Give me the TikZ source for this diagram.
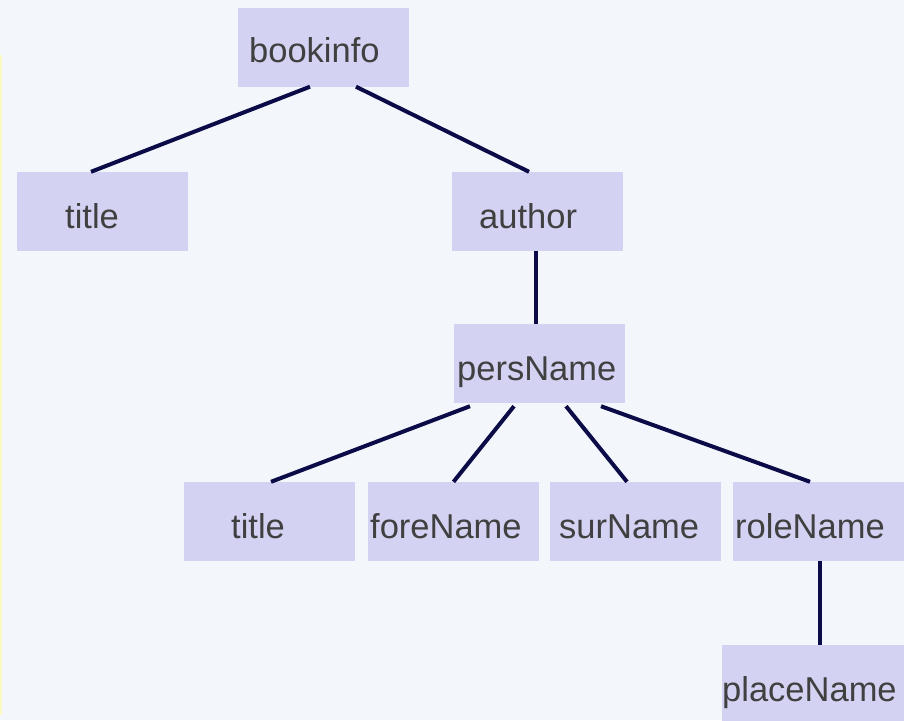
\documentclass[tikz,border=0pt]{standalone}
\usepackage{fontspec}
\setmainfont{Liberation Sans}
\begin{document}
\begin{tikzpicture}[x=1pt,y=-1pt,
  box/.style={fill=boxfill,draw=none,minimum width=171pt,minimum height=79pt,inner sep=0pt},
  lbl/.style={anchor=base west,inner sep=0pt,text=txt,font=\fontsize{34.5}{40}\selectfont},
  link/.style={draw=linkc,line width=4pt}]
\definecolor{bg}{HTML}{F3F6FA}
\definecolor{boxfill}{HTML}{D3D2F2}
\definecolor{txt}{HTML}{404040}
\definecolor{linkc}{HTML}{0B0B48}
\definecolor{edge}{HTML}{FBF8C4}
\useasboundingbox (0,0) rectangle (904,720);
\clip (0,0) rectangle (904,720);
\fill[bg] (0,0) rectangle (904,720);
% faint margin rule on the left
\draw[edge,line width=2.5pt] (1.2,55) -- (1.2,715);

% boxes
\node[box] (book)   at (323.5,47)    {};
\node[box] (title1) at (102.5,211.5) {};
\node[box] (author) at (537.5,211.5) {};
\node[box] (pers)   at (539.5,363.5) {};
\node[box] (title2) at (269.5,521.5) {};
\node[box] (fore)   at (453.5,521.5) {};
\node[box] (sur)    at (635.5,521.5) {};
\node[box,minimum width=180pt] (role)  at (823,521.5) {};
\node[box,minimum width=190pt] (place) at (817,684.5) {};

% labels
\node[lbl] (tbook)   at (249,62)  {bookinfo};
\node[lbl] (ttitle1) at (65,228)  {title};
\node[lbl] (tauthor) at (479,228) {author};
\node[lbl] (tpers)   at (457,380) {persName};
\node[lbl] (ttitle2) at (231,538) {title};
\node[lbl] (tfore)   at (370,538) {foreName};
\node[lbl] (tsur)    at (559,538) {surName};
\node[lbl] (trole)   at (735,538) {roleName};
\node[lbl] (tplace)  at (722,701) {placeName};

% tree edges
\draw[link] ([xshift=-13.5pt]book.south) -- ([xshift=-11.5pt]title1.north);
\draw[link] ([xshift=32.5pt]book.south) -- ([xshift=-8.5pt]author.north);
\draw[link] ([xshift=-1.5pt]author.south) -- ([xshift=-1.5pt]author.south |- pers.north);
\draw[link] ([xshift=-69.5pt,yshift=-3pt]pers.south) -- ([xshift=1.5pt]title2.north);
\draw[link] ([xshift=-25.5pt,yshift=-3pt]pers.south) -- (fore.north);
\draw[link] ([xshift=26.5pt,yshift=-3pt]pers.south) -- ([xshift=-8.5pt]sur.north);
\draw[link] ([xshift=61.5pt,yshift=-3pt]pers.south) -- ([xshift=-13pt]role.north);
\draw[link] ([xshift=-3pt]role.south) -- ([xshift=-3pt]role.south |- place.north);
\end{tikzpicture}
\end{document}
